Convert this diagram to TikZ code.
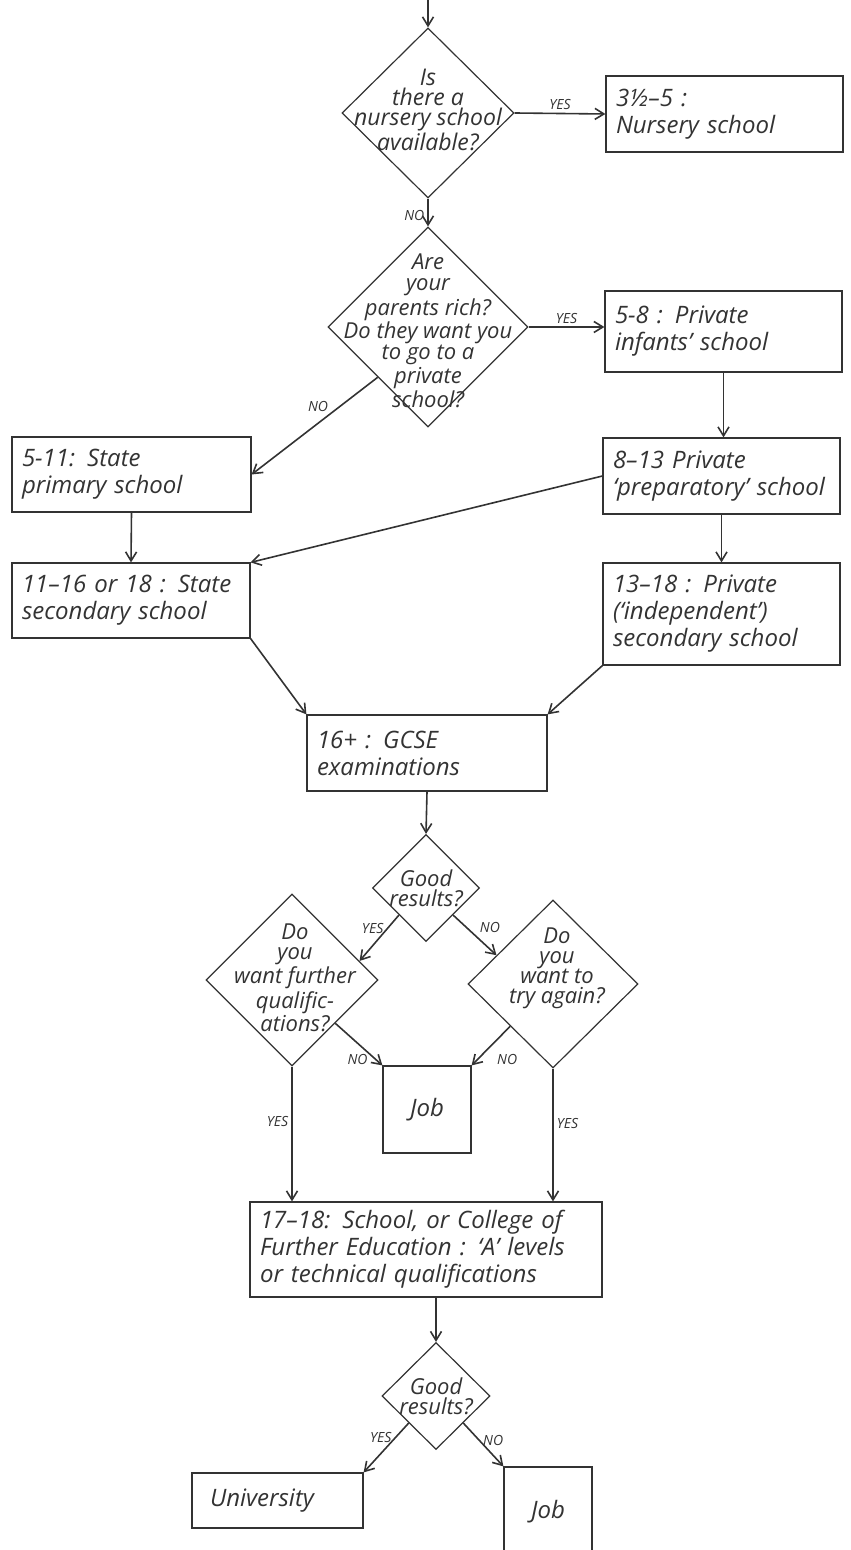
\documentclass[tikz,border=0pt]{standalone}
\usepackage{fontspec}
\setmainfont{Open Sans}
\usetikzlibrary{shapes.geometric,arrows.meta,calc}
\definecolor{ink}{HTML}{333333}
\tikzset{
  stage/.style={draw=ink, rectangle, line width=0.6pt, inner xsep=5pt, align=left, text=ink,
    font=\fontsize{12}{13.5}\selectfont\itshape},
  decision/.style={draw=ink, diamond, line width=0.6pt, inner sep=0pt},
  asktext/.style={align=center, inner sep=0pt, text=ink, font=\fontsize{11}{10}\selectfont\itshape},
  flow/.style={draw=ink, line width=0.8pt, -{Straight Barb[length=4.5pt,width=5.5pt]}},
  answer/.style={font=\fontsize{7}{8}\selectfont\itshape, text=ink, inner sep=1.5pt},
}
\begin{document}
\begin{tikzpicture}[x=0.5pt,y=-0.5pt]
	\useasboundingbox (0,0) rectangle (850,1550);
	% questions
	\node[decision, minimum width=86pt, minimum height=85pt] (qnursery) at (428,113) {};
	\node[asktext, font=\fontsize{11.5}{10}\selectfont\itshape] at (428,110) {Is\\there a\\nursery school\\available?};
	\node[decision, minimum width=100pt, minimum height=100pt] (qrich) at (428,327) {};
	\node[asktext, font=\fontsize{11}{10.5}\selectfont\itshape] at (428,331) {Are\\your\\parents rich?\\Do they want you\\to go to a\\private\\school?};
	\node[decision, minimum width=53.5pt, minimum height=53.5pt] (qgood1) at (426,888) {};
	\node[asktext] at (qgood1) {Good\\results?};
	\node[decision, minimum width=86pt, minimum height=86pt] (qfurther) at (292,980) {};
	\node[asktext] at (295,978) {Do\\you\\want further\\qualific-\\ations?};
	\node[decision, minimum width=85pt, minimum height=84pt] (qagain) at (553,984) {};
	\node[asktext] at (557,968) {Do\\you\\want to\\try again?};
	\node[decision, minimum width=54pt, minimum height=53.5pt] (qgood2) at (436,1396) {};
	\node[asktext] at (qgood2) {Good\\results?};
	% stages
	\node[stage, text width=108.5pt, minimum height=38pt] (nursery) at (724.5,114) {3½–5 :\\Nursery school};
	\node[stage, text width=108.5pt, minimum height=40.5pt] (infants) at (723.5,331.5) {5-8 : Private\\infants’ school};
	\node[stage, text width=109.5pt, minimum height=37.5pt] (primary) at (131.5,474.5) {5-11: State\\primary school};
	\node[stage, text width=108.5pt, minimum height=38pt] (prep) at (721.5,476) {8–13 Private\\‘preparatory’ school};
	\node[stage, text width=109pt, minimum height=37.5pt] (secondary) at (131,600.5) {11–16 or 18 : State\\secondary school};
	\node[stage, text width=108.5pt, minimum height=51pt] (independent) at (721.5,614) {13–18 : Private\\(‘independent’)\\secondary school};
	\node[stage, text width=110pt, minimum height=38pt] (gcse) at (427,753) {16+ : GCSE\\examinations};
	\node[stage, text width=34pt, minimum height=43.5pt, align=center] (job1) at (427,1109.5) {Job};
	\node[stage, text width=166pt, minimum height=47.5pt] (further) at (426,1249.5) {17–18: School, or College of\\Further Education : ‘A’ levels\\or technical qualifications};
	\node[stage, inner xsep=9pt, text width=67.5pt, minimum height=27.5pt] (univ) at (277.5,1500.5) {University};
	\node[stage, text width=34pt, minimum height=44.5pt, align=center] (job2) at (548,1511.5) {Job};
	% connectors
	\coordinate (entry) at (428,0);
	\draw[flow] (entry) -- (qnursery.north);
	\draw[flow] (qnursery.east) -- node[answer, above] {YES} (nursery.west);
	\draw[flow] (qnursery.south) -- node[answer, left, pos=0.6] {NO} (qrich.north);
	\draw[flow] (qrich.east) -- node[answer, above] {YES} (qrich.east -| infants.west);
	\draw[flow] (qrich.south west) -- node[answer, left=4pt, pos=0.3] {NO} (primary.east);
	\draw[flow] (infants.south) -- (infants.south |- prep.north);
	\draw[flow] (primary.south) -- (secondary.north);
	\draw[flow] (prep.west) -- (secondary.north east);
	\draw[flow] (prep.south) -- (independent.north);
	\draw[flow] (secondary.south east) -- (gcse.north west);
	\draw[flow] (independent.south west) -- (gcse.north east);
	\draw[flow] (gcse.south) -- (qgood1.north);
	\draw[flow] (qgood1.south west) -- node[answer, left, pos=0.3] {YES} ($(qfurther.north)!0.78!(qfurther.east)$);
	\draw[flow] (qgood1.south east) -- node[answer, right=5pt, pos=0.3] {NO} ($(qagain.north)!0.66!(qagain.west)$);
	\draw[flow] (qfurther.south east) -- node[answer, left=2pt, pos=0.85] {NO} (job1.north west);
	\draw[flow] (qagain.south west) -- node[answer, right=8pt, pos=0.85] {NO} (job1.north east);
	\draw[flow] (qfurther.south) -- node[answer, left, pos=0.41] {YES} (qfurther.south |- further.north);
	\draw[flow] (qagain.south) -- node[answer, right, pos=0.41] {YES} (qagain.south |- further.north);
	\draw[flow] (qgood2.north |- further.south) -- (qgood2.north);
	\draw[flow] (qgood2.south west) -- node[answer, left, pos=0.3] {YES} (univ.north east);
	\draw[flow] (qgood2.south east) -- node[answer, right, pos=0.4] {NO} (job2.north west);
\end{tikzpicture}
\end{document}
